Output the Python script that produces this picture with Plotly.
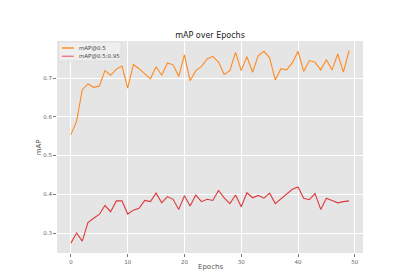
import plotly.graph_objects as go

epochs = list(range(50))
map50 = [0.554, 0.588, 0.670, 0.685, 0.676, 0.679, 0.719, 0.707, 0.723, 0.731,
         0.674, 0.735, 0.724, 0.710, 0.698, 0.729, 0.707, 0.739, 0.734, 0.704,
         0.760, 0.693, 0.719, 0.730, 0.749, 0.756, 0.741, 0.709, 0.719, 0.766,
         0.719, 0.755, 0.715, 0.758, 0.769, 0.752, 0.695, 0.724, 0.721, 0.739,
         0.769, 0.717, 0.745, 0.741, 0.721, 0.747, 0.721, 0.762, 0.715, 0.771]
map5095 = [0.274, 0.300, 0.279, 0.327, 0.338, 0.348, 0.371, 0.355, 0.383, 0.383,
           0.349, 0.359, 0.364, 0.384, 0.381, 0.403, 0.378, 0.394, 0.387, 0.361,
           0.396, 0.370, 0.398, 0.381, 0.387, 0.384, 0.410, 0.391, 0.376, 0.398,
           0.368, 0.404, 0.391, 0.397, 0.390, 0.403, 0.376, 0.389, 0.400, 0.413,
           0.419, 0.390, 0.386, 0.402, 0.361, 0.390, 0.384, 0.378, 0.381, 0.383]
series_names = ["mAP@0.5", "mAP@0.5:0.95"]
series_colors = ["#ff8a1f", "#dc3a3c"]
legend_colors = ["#ff7f0e", "#e8767a"]
x_ticks = [0, 10, 20, 30, 40, 50]
y_ticks = [0.3, 0.4, 0.5, 0.6, 0.7]

fig = go.Figure()
for yv, nm, col in zip([map50, map5095], series_names, series_colors):
    fig.add_trace(go.Scatter(x=epochs, y=yv, mode="lines", name=nm,
                             line=dict(color=col, width=1.1)))

font = "DejaVu Sans, Arial, sans-serif"
fig.update_layout(
    width=395, height=276,
    margin=dict(l=49, r=40, t=33, b=31),
    paper_bgcolor="white", plot_bgcolor="#E5E5E5",
    font=dict(family=font, color="#555555", size=6),
    showlegend=False,
    title=dict(text="mAP over Epochs", x=0.5 * (49 + 355) / 395, xanchor="center",
               y=1 - 27 / 276, yanchor="middle", font=dict(size=8, color="#222222")),
    xaxis=dict(range=[-2.45, 51.45], tickvals=x_ticks, showgrid=True, gridcolor="white",
               gridwidth=1, zeroline=False, ticks="outside", ticklen=3, tickcolor="#777777",
               tickfont=dict(size=5.5, color="#666666"), showline=False),
    yaxis=dict(range=[0.2485, 0.7955], tickvals=y_ticks, tickformat=".1f", showgrid=True,
               gridcolor="white", gridwidth=1, zeroline=False, ticks="outside", ticklen=3,
               tickcolor="#777777", tickfont=dict(size=5.5, color="#666666"), showline=False),
    hovermode=False,
)
fig.add_annotation(text="Epochs", xref="paper", yref="paper", x=0.5, y=-0.068,
                   xanchor="center", yanchor="middle", showarrow=False,
                   font=dict(size=7, color="#555555"))
fig.add_annotation(text="mAP", xref="paper", yref="paper", x=-0.058, y=0.5,
                   xanchor="center", yanchor="middle", showarrow=False, textangle=-90,
                   font=dict(size=7, color="#555555"))

# compact matplotlib-style legend
fig.add_shape(type="rect", xref="paper", yref="paper", x0=0.0065, x1=0.209, y0=0.906, y1=0.995,
              fillcolor="rgba(238,238,238,0.9)", line=dict(color="#d6d6d6", width=0.6),
              layer="above")
for i, (nm, col) in enumerate(zip(series_names, legend_colors)):
    yy = 0.967 - i * 0.039
    fig.add_shape(type="line", xref="paper", yref="paper", x0=0.016, x1=0.055, y0=yy, y1=yy,
                  line=dict(color=col, width=1.3), layer="above")
    fig.add_annotation(text=nm, xref="paper", yref="paper", x=0.066, y=yy,
                       xanchor="left", yanchor="middle", showarrow=False,
                       font=dict(size=5.5, color="#444444"))
fig.write_html("out.html")
